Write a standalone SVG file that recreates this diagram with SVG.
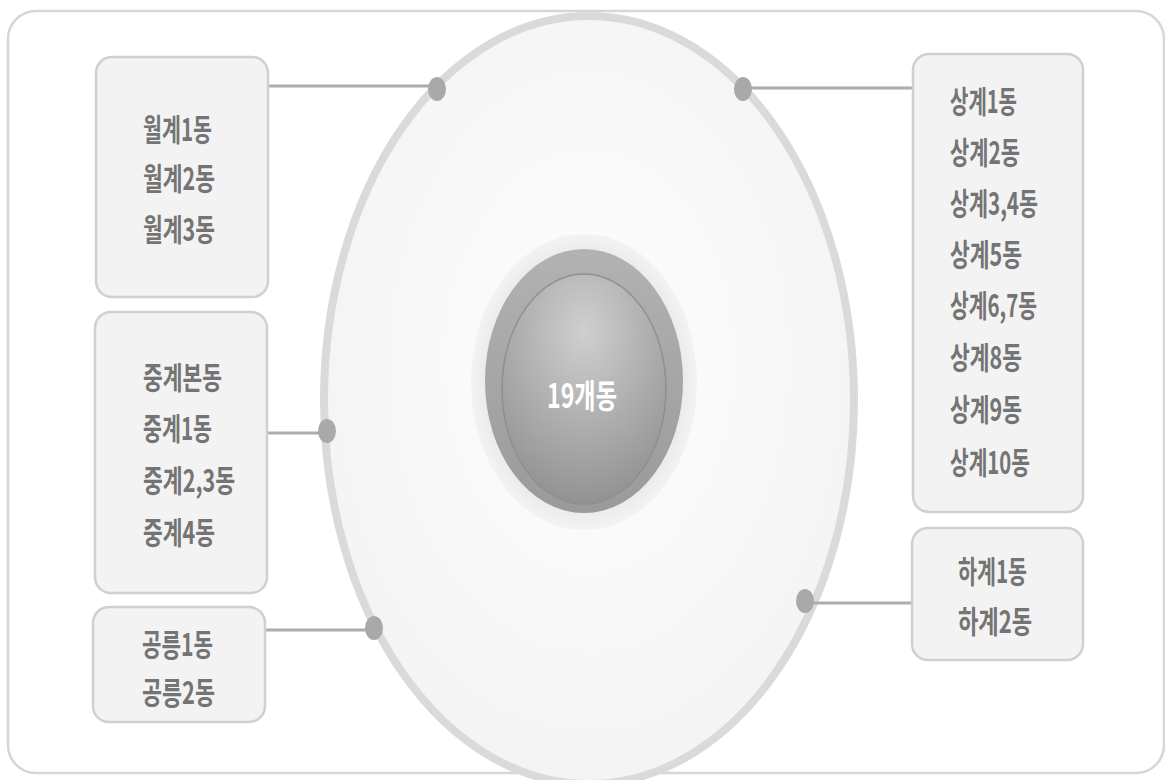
<svg xmlns="http://www.w3.org/2000/svg" width="1165" height="780" viewBox="0 0 1165 780">
  <style>
    .box { fill: #f3f3f3; stroke: #d0d0d0; stroke-width: 2.5; }
    .lbl { font-family: "Noto Sans CJK KR", "Noto Sans", sans-serif; font-size: 31px; font-weight: bold; fill: #747474; }
    .conn { stroke: #acacac; stroke-width: 3; fill: none; }
    .dot { fill: #a9a9a9; }
  </style>
  <defs>
    <radialGradient id="bigFill" cx="0.5" cy="0.45" r="0.6">
      <stop offset="0" stop-color="#fefefe"/>
      <stop offset="1" stop-color="#f3f3f3"/>
    </radialGradient>
    <radialGradient id="halo" cx="0.5" cy="0.5" r="0.5">
      <stop offset="0.8" stop-color="#e6e6e6"/>
      <stop offset="1" stop-color="#f3f3f3"/>
    </radialGradient>
    <linearGradient id="ringG" x1="0" y1="0" x2="0" y2="1">
      <stop offset="0" stop-color="#b2b2b2"/>
      <stop offset="1" stop-color="#9a9a9a"/>
    </linearGradient>
    <radialGradient id="sphere" cx="0.5" cy="0.25" r="0.85">
      <stop offset="0" stop-color="#cfcfcf"/>
      <stop offset="0.6" stop-color="#a6a6a6"/>
      <stop offset="1" stop-color="#8a8a8a"/>
    </radialGradient>
  </defs>

  <rect x="0" y="0" width="1165" height="780" fill="#ffffff"/>
  <rect x="8" y="11" width="1156" height="762" rx="28" fill="#ffffff" stroke="#d6d6d6" stroke-width="2.5"/>

  <g id="outer-ring">
    <ellipse cx="589" cy="400" rx="265" ry="384" fill="url(#bigFill)" stroke="#dadada" stroke-width="8"/>
  </g>

  <g id="center">
    <ellipse cx="584" cy="382" rx="113" ry="148" fill="url(#halo)"/>
    <ellipse cx="584" cy="381" rx="99" ry="132" fill="url(#ringG)"/>
    <ellipse cx="584" cy="389" rx="82" ry="115" fill="url(#sphere)" stroke="#8f8f8f" stroke-width="1.5"/>
    <text x="582" y="408" class="lbl" text-anchor="middle" style="fill:#ffffff;font-size:33px" textLength="70" lengthAdjust="spacingAndGlyphs">19개동</text>
  </g>

  <g id="connectors">
    <line class="conn" x1="268" y1="86" x2="437" y2="86"/>
    <line class="conn" x1="267" y1="433" x2="327" y2="433"/>
    <line class="conn" x1="265" y1="630" x2="373" y2="630"/>
    <line class="conn" x1="743" y1="88" x2="913" y2="88"/>
    <line class="conn" x1="803" y1="603" x2="912" y2="603"/>
    <ellipse class="dot" cx="437" cy="89" rx="9" ry="12"/>
    <ellipse class="dot" cx="327" cy="431" rx="9" ry="12"/>
    <ellipse class="dot" cx="374" cy="628" rx="9" ry="12"/>
    <ellipse class="dot" cx="743" cy="89" rx="9" ry="12"/>
    <ellipse class="dot" cx="805" cy="601" rx="9" ry="12"/>
  </g>

  <g id="wolgye">
    <rect class="box" x="96" y="57" width="172" height="240" rx="16"/>
    <text class="lbl" x="143" y="141" textLength="69" lengthAdjust="spacingAndGlyphs">월계1동</text>
    <text class="lbl" x="143" y="190" textLength="72" lengthAdjust="spacingAndGlyphs">월계2동</text>
    <text class="lbl" x="143" y="241" textLength="72" lengthAdjust="spacingAndGlyphs">월계3동</text>
  </g>

  <g id="junggye">
    <rect class="box" x="95" y="312" width="172" height="281" rx="16"/>
    <text class="lbl" x="143" y="389" textLength="79" lengthAdjust="spacingAndGlyphs">중계본동</text>
    <text class="lbl" x="143" y="440" textLength="69" lengthAdjust="spacingAndGlyphs">중계1동</text>
    <text class="lbl" x="143" y="492" textLength="92" lengthAdjust="spacingAndGlyphs">중계2,3동</text>
    <text class="lbl" x="143" y="544" textLength="72" lengthAdjust="spacingAndGlyphs">중계4동</text>
  </g>

  <g id="gongneung">
    <rect class="box" x="93" y="607" width="172" height="115" rx="16"/>
    <text class="lbl" x="142" y="656" textLength="71" lengthAdjust="spacingAndGlyphs">공릉1동</text>
    <text class="lbl" x="142" y="704" textLength="73" lengthAdjust="spacingAndGlyphs">공릉2동</text>
  </g>

  <g id="sanggye">
    <rect class="box" x="913" y="54" width="170" height="458" rx="16"/>
    <text class="lbl" x="950" y="113" textLength="67" lengthAdjust="spacingAndGlyphs">상계1동</text>
    <text class="lbl" x="950" y="164" textLength="70" lengthAdjust="spacingAndGlyphs">상계2동</text>
    <text class="lbl" x="950" y="215" textLength="88" lengthAdjust="spacingAndGlyphs">상계3,4동</text>
    <text class="lbl" x="950" y="266" textLength="72" lengthAdjust="spacingAndGlyphs">상계5동</text>
    <text class="lbl" x="950" y="317" textLength="87" lengthAdjust="spacingAndGlyphs">상계6,7동</text>
    <text class="lbl" x="950" y="369" textLength="72" lengthAdjust="spacingAndGlyphs">상계8동</text>
    <text class="lbl" x="950" y="421" textLength="72" lengthAdjust="spacingAndGlyphs">상계9동</text>
    <text class="lbl" x="950" y="474" textLength="80" lengthAdjust="spacingAndGlyphs">상계10동</text>
  </g>

  <g id="hagye">
    <rect class="box" x="912" y="528" width="171" height="132" rx="16"/>
    <text class="lbl" x="958" y="583" textLength="69" lengthAdjust="spacingAndGlyphs">하계1동</text>
    <text class="lbl" x="958" y="633" textLength="74" lengthAdjust="spacingAndGlyphs">하계2동</text>
  </g>
</svg>
